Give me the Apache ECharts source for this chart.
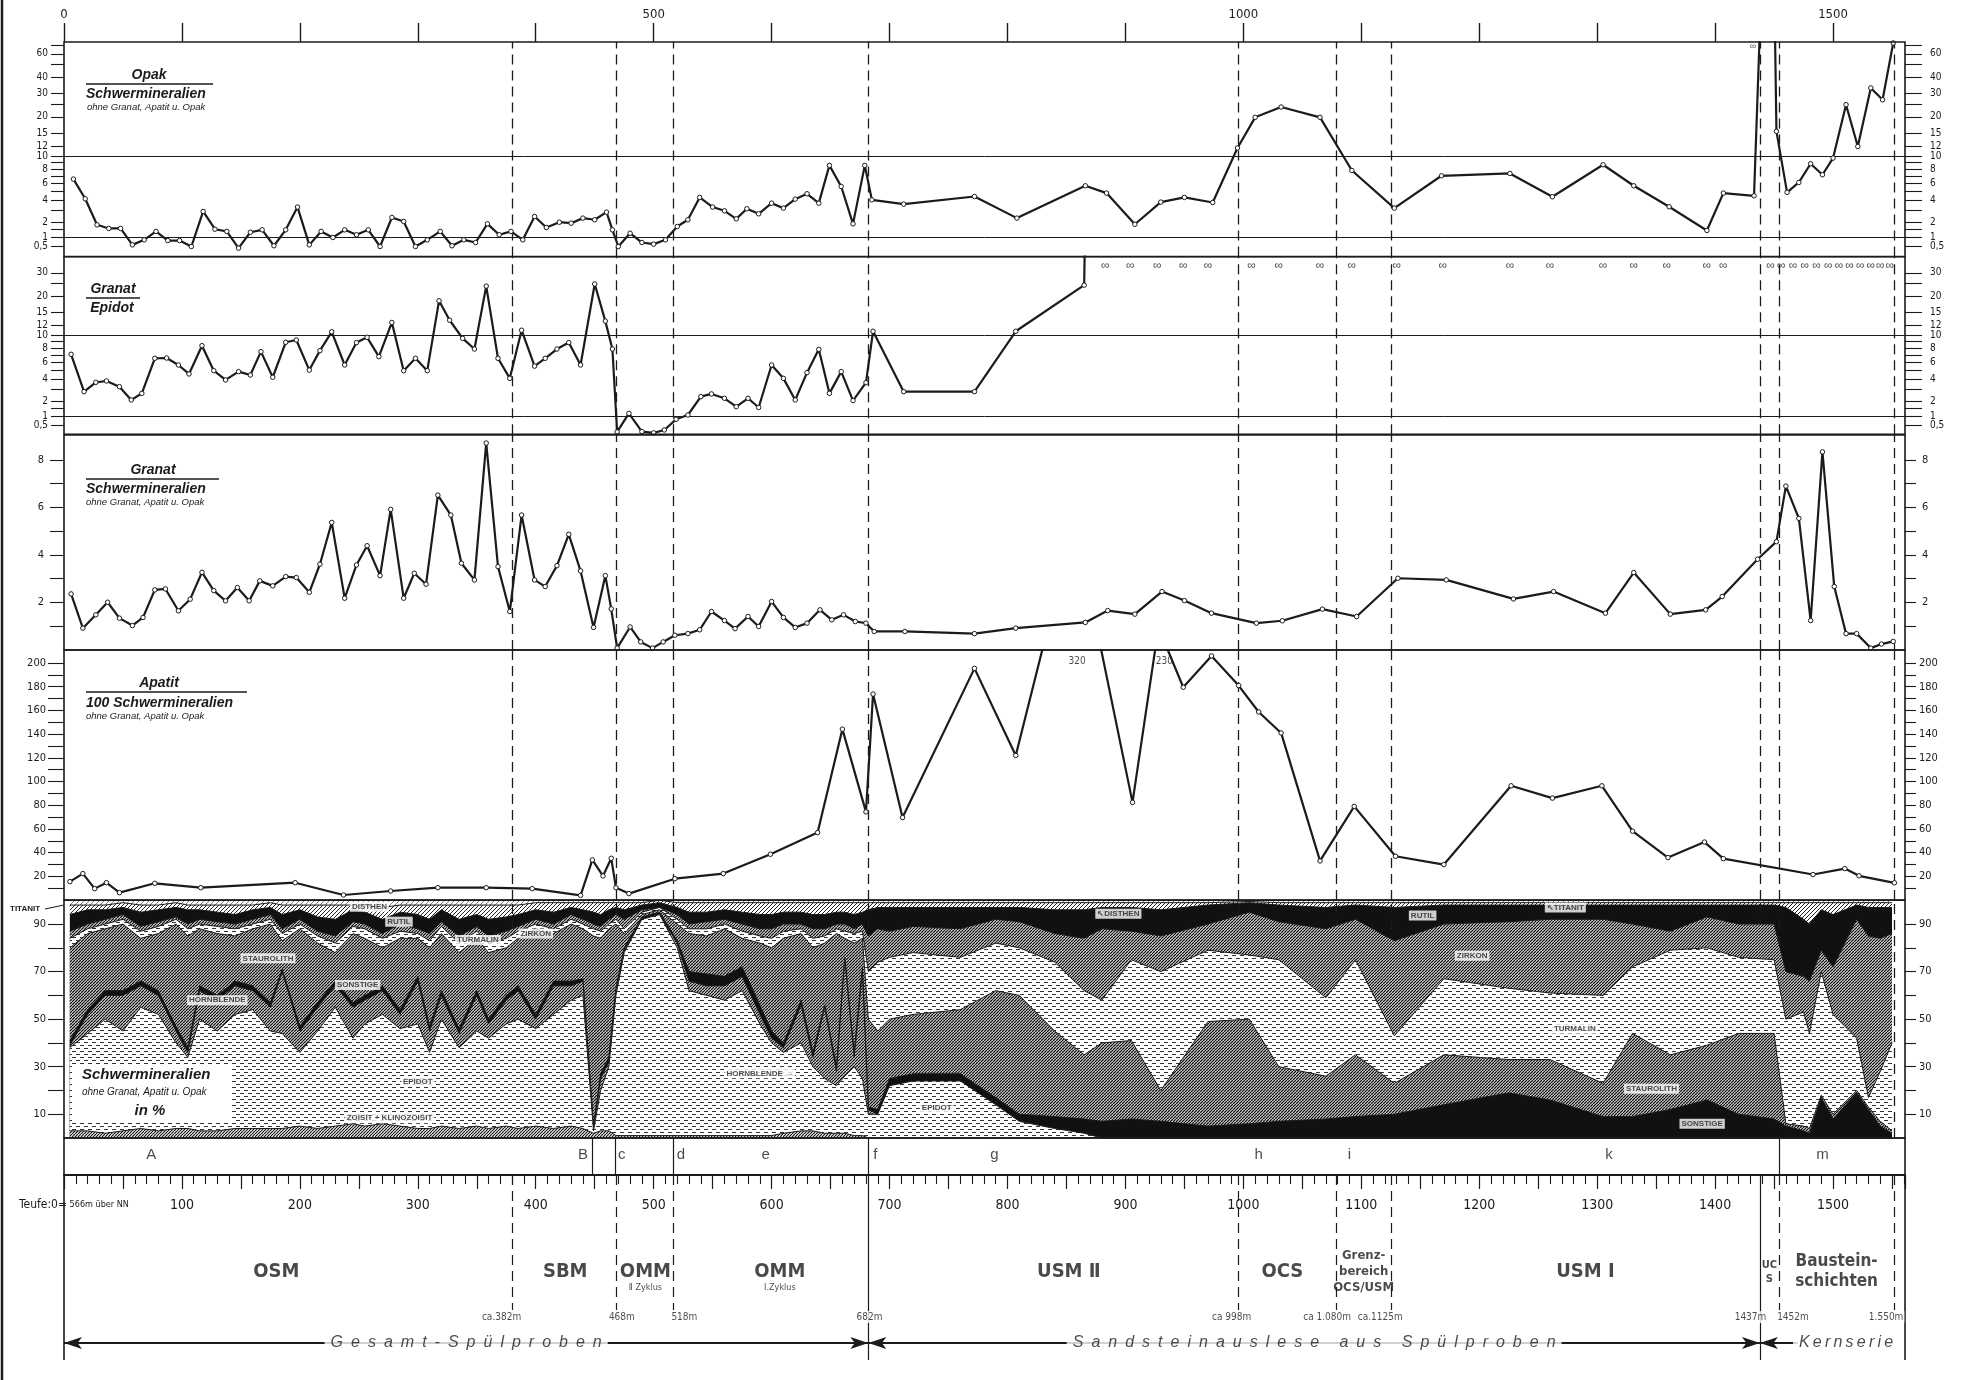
<!DOCTYPE html>
<html><head><meta charset="utf-8">
<script src="https://cdn.jsdelivr.net/npm/echarts@6/dist/echarts.min.js"></script>
<style>html,body{margin:0;padding:0;background:#fff}#c{width:1973px;height:1380px}</style>
</head><body><div id="c"></div>
<script>
// ---------------- DATA ----------------
// Panel 1: Opak / Schwermineralien
const opakDepth = [8,18,28,38,48,58,68,78,88,98,108,118,128,138,148,158,168,178,188,198,208,218,228,238,248,258,268,278,288,298,308,319,329,339,349,359,369,379,389,399,409,420,430,440,450,460,465,470,480,490,500,510,520,529,539,550,560,570,579,589,600,610,620,630,640,649,659,669,679,685,712,772,808,866,884,908,930,950,974,995,1010,1032,1065,1092,1128,1168,1226,1262,1305,1331,1361,1393,1407,1433,1442,1449,1452,1461,1471,1481,1491,1500,1511,1521,1532,1542,1551];
const opakValue = [6.54,4.13,1.79,1.54,1.54,0.59,0.87,1.35,0.83,0.83,0.5,2.87,1.49,1.35,0.41,1.30,1.45,0.54,1.45,3.28,0.59,1.35,1.0,1.45,1.15,1.45,0.5,2.35,2.04,0.5,0.87,1.35,0.54,0.87,0.72,1.86,1.15,1.35,0.87,2.43,1.60,1.98,1.91,2.30,2.17,2.81,1.45,0.5,1.24,0.72,0.63,0.87,1.67,2.17,4.28,3.28,2.93,2.24,3.12,2.66,3.67,3.18,4.09,4.69,3.67,8.54,5.57,1.86,8.54,4.02,3.57,4.38,2.30,5.66,4.77,1.83,3.78,4.28,3.74,11.6,19.8,23.7,19.8,7.77,3.18,7.0,7.33,4.35,8.64,5.66,3.31,1.41,4.77,4.46,1000,1000,15.5,4.86,6.09,8.80,7.15,9.72,24.7,11.9,33.1,26.9,72.6];
const opakInfDepth = [1432];

// Panel 2: Granat / Epidot
const geDepth = [6,17,27,36,47,57,66,77,87,97,106,117,127,137,148,158,167,177,188,197,208,217,227,238,248,257,267,278,288,298,308,318,327,338,348,358,368,378,388,399,408,418,428,438,450,459,465,469,479,490,500,509,519,529,540,549,560,570,580,589,600,610,620,630,640,649,659,669,680,686,712,772,807,865,868];
const geValue = [7.10,2.78,3.67,3.81,3.24,2.09,2.63,6.54,6.58,5.66,4.58,8.38,4.96,3.92,4.85,4.46,7.48,4.21,8.91,9.28,5.03,7.63,10.7,5.66,8.87,9.72,6.77,12.6,4.96,6.54,4.96,18.4,13.1,9.55,7.87,23.8,6.54,4.09,11.0,5.52,6.54,7.87,8.87,5.66,24.7,12.9,7.87,0.15,1.18,0.17,0.1,0.26,0.85,1.09,2.35,2.58,2.22,1.60,2.22,1.55,5.66,4.09,2.09,4.73,7.82,2.63,4.85,2.04,3.64,10.8,2.78,2.78,10.8,24.2,1000];
const geInfDepth = [883,904,927,949,970,1007,1030,1065,1092,1130,1169,1226,1260,1305,1331,1359,1393,1407,1447,1456,1466,1476,1486,1496,1505,1514,1523,1532,1540,1548];

// Panel 3: Granat / Schwermineralien
const gsDepth = [6,16,27,37,47,58,67,77,86,97,107,117,127,137,147,157,166,177,188,197,208,217,227,238,248,257,268,277,288,297,307,317,328,337,348,358,368,378,388,399,408,418,428,438,449,459,464,469,480,489,499,508,518,529,539,549,560,569,580,589,600,610,620,630,641,651,661,671,680,687,713,772,807,866,885,908,931,950,973,1011,1033,1067,1096,1131,1172,1229,1263,1307,1331,1362,1392,1406,1436,1452,1460,1471,1481,1491,1501,1511,1520,1532,1541,1551];
const gsValue = [2.36,0.92,1.48,2.01,1.34,1.03,1.37,2.53,2.57,1.65,2.14,3.27,2.50,2.07,2.63,2.07,2.91,2.70,3.09,3.05,2.43,3.61,5.37,2.18,3.58,4.39,3.13,5.92,2.18,3.23,2.77,6.52,5.68,3.65,2.95,8.71,3.51,1.62,5.68,2.95,2.67,3.55,4.87,3.33,0.95,3.13,1.73,0.08,0.97,0.34,0.08,0.34,0.62,0.69,0.85,1.62,1.24,0.90,1.41,0.99,2.04,1.37,0.95,1.13,1.69,1.27,1.48,1.20,1.13,0.78,0.78,0.69,0.92,1.16,1.66,1.51,2.46,2.08,1.55,1.13,1.23,1.72,1.41,3.02,2.95,2.15,2.46,1.55,3.26,1.51,1.69,2.25,3.82,4.56,6.90,5.54,1.24,8.34,2.67,0.69,0.69,0.08,0.25,0.36];

// Panel 4: Apatit / 100 Schwermineralien
const apDepth = [5,16,26,36,47,77,116,196,237,277,317,358,397,438,448,457,464,468,479,518,559,599,639,660,680,686,711,772,807,857,906,928,949,973,996,1013,1032,1065,1094,1129,1170,1227,1262,1304,1330,1360,1391,1407,1483,1510,1522,1552];
const apValue = [15.5,22.3,9.6,14.6,6.2,14.1,10.4,14.6,4.2,7.6,10.4,10.4,9.6,3.9,33.8,20.3,35.2,10.4,5.4,18.0,22.3,38.6,56.9,144.2,74.4,173.8,69.6,195.5,122,320,82.4,230,179.6,206,181,158.7,141,33,79,36.9,29.9,96.4,86,96.4,58.1,35.8,48.9,34.9,21.5,26.5,20.4,14.5];
const apOffscale = [[859,'320'],[933,'230']];

// Panel 5: cumulative upper boundaries (%) of each layer
const p5Depth = [5,20,35,50,65,80,95,105,115,130,145,160,175,185,200,215,230,245,255,270,285,300,310,320,335,350,360,375,385,400,415,430,440,449,455,462,468,475,490,505,520,530,545,560,575,590,600,610,625,635,645,655,662,670,677,682,690,700,720,760,790,810,840,865,880,905,930,970,1005,1030,1070,1095,1128,1170,1225,1260,1305,1330,1362,1393,1420,1450,1460,1475,1480,1490,1500,1520,1530,1540,1550];
const zoisitTop = [3,3,2,3,4,3,4,4,3,3,4,4,4,4,5,4,5,6,5,6,5,4,4,5,4,5,4,5,4,5,4,5,4,2,3,3,1,1,1,1,1,1,1,1,1,1,1,2,3,3,2,2,2,1,1,0,0,0,0,0,0,0,0,0,0,0,0,0,0,0,0,0,0,0,0,0,0,0,0,0,0,0,0,0,0,0,0,0,0,0,0];
const epidotTop = [38,44,50,45,55,52,40,34,50,45,52,54,45,44,36,45,55,42,48,52,46,48,36,50,38,45,42,48,50,46,52,58,60,3,20,30,60,78,92,94,80,62,60,58,62,48,40,36,40,30,25,22,26,30,25,10,10,22,24,24,14,7,4,2,0,0,0,0,0,0,0,0,0,0,0,0,0,0,0,0,0,0,0,0,0,0,0,0,0,0,0];
const hornblendeTop = [39,52,60,60,64,60,45,36,62,58,64,62,55,70,45,55,64,55,58,62,52,66,45,60,44,60,48,58,62,50,64,64,66,4,25,32,62,79,92,94,82,66,64,64,68,52,42,38,56,34,55,28,75,34,70,12,10,22,24,24,14,7,4,2,0,0,0,0,0,0,0,0,0,0,0,0,0,0,0,0,0,0,0,0,0,0,0,0,0,0,0];
const sonstigeTop = [41,54,62,62,66,62,47,38,64,60,66,64,57,71,47,57,66,57,60,64,54,68,47,62,46,62,50,60,64,52,66,66,67,5,27,34,63,80,93,95,83,70,69,68,72,56,45,40,58,36,56,30,76,36,72,13,12,25,27,27,17,10,9,8,7,8,7,5,6,7,8,9,10,14,19,16,9,9,12,16,10,8,5,3,2,17,8,19,12,5,2];
const staurolithTop = [80,86,88,90,84,86,90,85,88,86,85,88,90,83,88,82,78,86,84,80,84,84,80,86,78,84,78,80,84,88,86,90,88,85,84,88,90,86,94,96,90,86,85,88,84,82,80,84,86,80,82,86,84,82,84,50,45,50,52,54,62,60,45,35,40,41,20,49,50,30,26,35,23,35,33,33,23,44,35,39,44,44,6,5,4,18,10,20,13,7,3];
const turmalinTop = [84,88,90,92,87,89,92,88,90,89,88,90,92,86,90,85,82,89,88,84,87,86,83,89,82,87,82,84,87,90,88,92,90,88,87,90,92,88,95,97,92,88,88,90,87,85,84,87,88,84,85,88,87,86,87,70,74,76,78,76,82,80,74,62,58,75,70,79,77,75,59,75,43,67,63,61,60,72,79,80,76,75,50,53,44,70,52,42,17,28,40];
const zirkonTop = [87,90,92,94,89,91,93,90,92,91,90,92,94,88,92,87,85,91,90,86,90,88,86,91,85,89,85,87,89,92,90,94,92,90,89,92,94,92,96,97,94,90,91,92,90,88,88,90,90,88,88,90,90,88,90,85,88,87,89,88,92,91,86,84,88,87,85,90,95,91,88,92,83,90,91,92,92,90,87,93,90,90,70,68,66,79,72,92,85,84,86];
const rutilTop = [94,96,96,97,95,96,97,96,96,95,94,96,97,94,96,93,92,96,95,92,95,94,92,96,92,94,92,93,94,96,95,97,96,95,94,96,97,96,98,99,97,95,95,96,95,94,94,95,95,94,94,95,95,94,95,96,97,97,97,97,97,97,96,96,97,97,96,98,99,98,97,98,97,98,98,98,98,98,98,98,98,98,97,92,90,96,94,98,97,97,97];
const disthenTop = [98,98,98,99,98,98,99,98,98,98,98,98,99,98,98,98,98,98,98,97,98,98,98,98,98,98,98,98,98,99,99,99,99,99,99,99,99,99,99,100,99,99,99,99,99,99,99,99,99,99,99,99,99,99,99,99,99,99,99,99,99,99,99,99,99,99,99,99,99.5,99,99,99,99,99,99,99,99,99,99,99,99,99,99,99,99,99,99,99,99,99,99];
const p5Labels = [['DISTHEN',259,97.3],['RUTIL',284,91],['STAUROLITH',173,75.6],['SONSTIGE',249,64.4],['HORNBLENDE',130,58],['TURMALIN',351,83.3],['ZIRKON',400,86],['EPIDOT',300,23.7],['ZOISIT + KLINOZOISIT',276,8.3],['HORNBLENDE \u2192',590,27.2],['EPIDOT',740,12.5],['\u2196DISTHEN',894,94.3],['RUTIL',1152,93.6],['\u2196TITANIT',1273,97],['ZIRKON',1194,76.7],['TURMALIN',1281,46],['STAUROLITH',1346,20.7],['SONSTIGE',1389,6]];

// Boundaries, letters, stratigraphy
const boundaryDepths = [380,468,517,682,996,1079,1125,1438,1454,1552];
const solidBoundaries = [682,1438];
const letterNames = ['A','B','c','d','e','f','g','h','i','k','m'];
const letterDepths = [74,440,473,523,595,688,789,1013,1090,1310,1491];
const letterLines = [448,467,517,682,1454];
const stratNames = ['OSM','SBM','OMM','OMM','USM \u2161','OCS','Grenz-\nbereich\nOCS/USM','USM \u2160','UC\nS','Baustein-\nschichten'];
const stratDepths = [180,425,493,607,852,1033,1102,1290,1446,1503];
const stratSub = [[493,'\u2161 Zyklus'],[607,'\u2160.Zyklus']];
const depthLabels = [[371,'ca.382m'],[473,'468m'],[526,'518m'],[683,'682m'],[990,'ca 998m'],[1071,'ca 1.080m'],[1116,'ca.1125m'],[1430,'1437m'],[1466,'1452m'],[1545,'1.550m']];
const sampleGroups = [[0,682,'Gesamt-Spülproben',341],[682,1438,'Sandsteinauslese aus Spülproben',1060],[1438,1470,'Kernserie',1511]];

// tick lists
const p1Ticks = [70,60,50,40,30,25,20,15,12,10,9,8,7,6,5,4,3,2,1.5,1,0.5];
const p1Labels = [60,40,30,20,15,12,10,8,6,4,2,0.5];
const p2Ticks = [30,25,20,15,12,10,9,8,7,6,5,4,3,2,1.5,1,0.5];
const p2Labels = [30,20,15,12,10,8,6,4,2,0.5];
const logExtraLabels = [1];
const p3Ticks = [1,2,3,4,5,6,7,8];
const p3Labels = [2,4,6,8];
const p4Ticks = [10,20,30,40,50,60,70,80,90,100,110,120,130,140,150,160,170,180,190,200];
const p4Labels = [20,40,60,80,100,120,140,160,180,200];
const p5Ticks = [10,20,30,40,50,60,70,80,90];
const p5LabelVals = [10,30,50,70,90];
const topTicks = [0,100,200,300,400,500,600,700,800,900,1000,1100,1200,1300,1400,1500];
const topLabels = [0,500,1000,1500];

// ---------------- CHART ----------------
const FONT = "'Liberation Sans','Arimo',sans-serif";
const NARROW = "'Liberation Sans Narrow','DejaVu Sans Condensed','Liberation Sans',sans-serif";
const INK = '#1b1b1b';
const X_MAX = 1561;
function tf(v){ if(v>=10) return 243+395*Math.log10(v/10); if(v>=1) return 112.4*(Math.sqrt(v)-1); return 54*(v-1); }

function pat(w,h,fn){const c=document.createElement('canvas');c.width=w;c.height=h;const g=c.getContext('2d');g.fillStyle='#fff';g.fillRect(0,0,w,h);fn(g,w,h);return {image:c,repeat:'repeat'};}
function hatch(s,lw,col){return pat(s,s,g=>{g.strokeStyle=col||'#111';g.lineWidth=lw;g.beginPath();for(let k=-1;k<=1;k++){g.moveTo(k*s,s);g.lineTo(k*s+s,0);}g.stroke();});}
const dashPat = pat(8,6,g=>{g.fillStyle='#333';g.fillRect(0,1,4,1);g.fillRect(4,4,4,1);});
const fills = {
  titanit: hatch(5,0.7,'#444'), disthen: hatch(4,1.0,'#222'), rutil: '#111', zirkon: hatch(3,1.3),
  turmalin: dashPat, staurolith: hatch(3,1.4), sonstige: '#111', hornblende: hatch(3,1.3),
  epidot: dashPat, zoisit: hatch(3,1.2)
};

function mapAxis(gi,pos,min,max,ticks,labels,tfn,tickLen,margin,fs){
  const map={}; labels.forEach(v=>{map[tfn(v).toFixed(4)] = String(v).replace('.',',');});
  return {type:'value',gridIndex:gi,position:pos,min,max,axisLine:{show:false,onZero:false},splitLine:{show:false},
    axisTick:{show:ticks.length>0,length:tickLen,customValues:ticks.map(tfn),lineStyle:{color:INK,width:1.1}},
    axisLabel:{show:true,customValues:labels.map(tfn),margin,fontSize:fs||11,fontFamily:NARROW,color:INK,hideOverlap:false,interval:0,
      showMinLabel:true,showMaxLabel:true,formatter:v=>map[Number(v).toFixed(4)]||''}};
}
const id = v=>v;
const vLines = boundaryDepths.map(d=>({xAxis:d,lineStyle:{type:[10,6],width:1.3,color:INK}}));
const hLines = [{yAxis:tf(10),lineStyle:{type:'solid',width:1,color:INK}},{yAxis:tf(1),lineStyle:{type:'solid',width:1,color:INK}}];
function ml(data){return {silent:true,symbol:'none',label:{show:false},animation:false,data};}
const lineBase = {type:'line',symbol:'circle',symbolSize:4.5,showAllSymbol:true,clip:true,z:5,
  lineStyle:{color:INK,width:2.2},itemStyle:{color:'#fff',borderColor:INK,borderWidth:1}};

const grids = [
  {left:64,right:68,top:42,height:214.5},
  {left:64,right:68,top:256.7,height:177.6},
  {left:64,right:68,top:435,height:215},
  {left:64,right:68,top:650,height:250},
  {left:64,right:68,top:900.3,height:237.7},
  {left:64,right:68,top:1138,height:37},
  {left:64,right:68,top:1175,height:185,show:false}
].map((g,i)=>Object.assign({show:i<6,borderColor:INK,borderWidth:1.6,z:30},g));

const xAxes = [];
xAxes.push({type:'value',gridIndex:0,min:0,max:X_MAX,position:'top',axisLine:{show:false,onZero:false},splitLine:{show:false},
  axisTick:{show:true,length:19,customValues:topTicks,lineStyle:{color:INK,width:1.4}},
  axisLabel:{show:true,customValues:topLabels,margin:21,fontSize:13,fontFamily:NARROW,color:INK,formatter:v=>String(v)}});
for(let i=1;i<=5;i++) xAxes.push({type:'value',gridIndex:i,min:0,max:X_MAX,show:false,axisLine:{onZero:false}});
xAxes.push({type:'value',gridIndex:6,min:0,max:X_MAX,position:'top',interval:50,
  axisLine:{show:true,onZero:false,lineStyle:{color:INK,width:2.2}},splitLine:{show:false},
  axisTick:{show:true,inside:true,length:14,lineStyle:{color:INK,width:1.2}},
  minorTick:{show:true,splitNumber:5,length:9,lineStyle:{color:INK,width:1.1}},
  axisLabel:{show:true,inside:true,margin:23,fontSize:14,fontFamily:NARROW,color:INK,formatter:v=>(v>0&&v%100===0)?String(v):''}});

const yAxes = [
  mapAxis(0,'left',-57,586,p1Ticks,p1Labels,tf,13,16,10),
  mapAxis(0,'right',-57,586,p1Ticks,p1Labels,tf,17,25,10),
  mapAxis(1,'left',-53,480,p2Ticks,p2Labels,tf,13,16,10),
  mapAxis(1,'right',-53,480,p2Ticks,p2Labels,tf,17,25,10),
  mapAxis(2,'left',0,9.05,p3Ticks,p3Labels,id,14,20),
  mapAxis(2,'right',0,9.05,p3Ticks,p3Labels,id,11,17),
  mapAxis(3,'left',0,211,p4Ticks,p4Labels,id,16,18),
  mapAxis(3,'right',0,211,p4Ticks,p4Labels,id,11,14),
  mapAxis(4,'left',0,100,p5Ticks,p5LabelVals,id,16,18),
  mapAxis(4,'right',0,100,p5Ticks,p5LabelVals,id,11,14),
  {type:'value',gridIndex:5,min:0,max:37,inverse:true,show:false},
  {type:'value',gridIndex:6,min:0,max:185,inverse:true,show:false},
  // extra label-only axes so the "1" label is not dropped next to "0,5"
  mapAxis(0,'left',-57,586,[],logExtraLabels,tf,13,16,10),
  mapAxis(0,'right',-57,586,[],logExtraLabels,tf,17,25,10),
  mapAxis(1,'left',-53,480,[],logExtraLabels,tf,13,16,10),
  mapAxis(1,'right',-53,480,[],logExtraLabels,tf,17,25,10)
];

const series = [];
// Panel 1
series.push(Object.assign({},lineBase,{name:'Opak',xAxisIndex:0,yAxisIndex:0,
  data:opakDepth.map((d,i)=>[d,tf(opakValue[i])]),markLine:ml(hLines.concat(vLines))}));
series.push({type:'scatter',xAxisIndex:0,yAxisIndex:0,symbolSize:0,z:6,
  data:opakInfDepth.map(d=>[d,tf(68)]),label:{show:true,position:'inside',formatter:'\u221e',fontSize:9,color:INK,fontFamily:FONT}});
// Panel 2
series.push(Object.assign({},lineBase,{name:'Granat/Epidot',xAxisIndex:1,yAxisIndex:2,
  data:geDepth.map((d,i)=>[d,tf(geValue[i])]),markLine:ml(hLines.concat(vLines))}));
series.push({type:'scatter',xAxisIndex:1,yAxisIndex:2,symbolSize:0,z:6,
  data:geInfDepth.map(d=>[d,tf(34)]),label:{show:true,position:'inside',formatter:'\u221e',fontSize:12,color:INK,fontFamily:FONT}});
// Panel 3
series.push(Object.assign({},lineBase,{name:'Granat/SM',xAxisIndex:2,yAxisIndex:4,
  data:gsDepth.map((d,i)=>[d,gsValue[i]]),markLine:ml(vLines)}));
// Panel 4
series.push(Object.assign({},lineBase,{name:'Apatit',xAxisIndex:3,yAxisIndex:6,
  data:apDepth.map((d,i)=>[d,apValue[i]]),markLine:ml(vLines)}));
series.push({type:'scatter',xAxisIndex:3,yAxisIndex:6,symbolSize:0,z:6,
  data:apOffscale.map(a=>[a[0],201,a[1]]),label:{show:true,position:'inside',formatter:p=>p.value[2],fontSize:10,color:INK,fontFamily:NARROW}});
// Panel 5 areas (drawn from top boundary downward)
const layers = [
  ['Titanit',p5Depth.map(()=>100),fills.titanit],
  ['Disthen',disthenTop,fills.disthen],
  ['Rutil',rutilTop,fills.rutil],
  ['Zirkon',zirkonTop,fills.zirkon],
  ['Turmalin',turmalinTop,fills.turmalin],
  ['Staurolith',staurolithTop,fills.staurolith],
  ['Sonstige',sonstigeTop,fills.sonstige],
  ['Hornblende',hornblendeTop,fills.hornblende],
  ['Epidot',epidotTop,fills.epidot],
  ['Zoisit',zoisitTop,fills.zoisit]
];
layers.forEach((L,i)=>{
  series.push({type:'line',name:L[0],xAxisIndex:4,yAxisIndex:8,symbol:'none',z:2+i,clip:true,
    data:p5Depth.map((d,k)=>[d,L[1][k]]),lineStyle:{color:INK,width:1},
    areaStyle:{color:L[2],opacity:1,origin:'start'}});
});
series.push({type:'scatter',xAxisIndex:4,yAxisIndex:8,symbolSize:0,z:20,
  data:p5Labels.map(a=>[a[1],a[2],a[0]]),
  label:{show:true,position:'inside',formatter:p=>p.value[2],fontSize:8,fontWeight:'bold',color:INK,fontFamily:FONT,backgroundColor:'#fff',padding:[1,2]},
  markLine:ml(vLines)});
// Letter band
series.push({type:'scatter',xAxisIndex:5,yAxisIndex:10,symbolSize:0,z:20,
  data:letterDepths.map((d,i)=>[d,17,letterNames[i]]),
  label:{show:true,position:'inside',formatter:p=>p.value[2],fontSize:15,color:INK,fontFamily:FONT},
  markLine:ml(letterLines.map(d=>({xAxis:d,lineStyle:{type:'solid',width:1.2,color:INK}})))});
// Stratigraphy section
const stratLines = [];
boundaryDepths.forEach(d=>{
  const solid = solidBoundaries.indexOf(d)>=0;
  stratLines.push([{coord:[d,0],lineStyle:{type:solid?'solid':[10,6],width:1.2,color:INK}},{coord:[d,solid?185:135]}]);
});
stratLines.push([{coord:[0,0],lineStyle:{type:'solid',width:1.6,color:INK}},{coord:[0,185]}]);
stratLines.push([{coord:[X_MAX,0],lineStyle:{type:'solid',width:1.6,color:INK}},{coord:[X_MAX,185]}]);
const stratSize = n => n.indexOf('Grenz')===0 ? 13 : (n.indexOf('UC')===0 ? 11 : (n.indexOf('Baustein')===0 ? 17 : 20));
series.push({type:'scatter',xAxisIndex:6,yAxisIndex:11,symbolSize:0,z:20,
  data:stratDepths.map((d,i)=>({value:[d,97,stratNames[i]],label:{fontSize:stratSize(stratNames[i]),lineHeight:stratSize(stratNames[i])+3}})),
  label:{show:true,position:'inside',formatter:p=>p.value[2],fontWeight:'bold',color:INK,fontFamily:NARROW},
  markLine:ml(stratLines)});
series.push({type:'scatter',xAxisIndex:6,yAxisIndex:11,symbolSize:0,z:20,
  data:stratSub.map(a=>[a[0],113,a[1]]),
  label:{show:true,position:'inside',formatter:p=>p.value[2],fontSize:9,color:INK,fontFamily:NARROW}});
series.push({type:'scatter',xAxisIndex:6,yAxisIndex:11,symbolSize:0,z:22,
  data:depthLabels.map(a=>[a[0],142,a[1]]),
  label:{show:true,position:'inside',formatter:p=>p.value[2],fontSize:10,color:INK,fontFamily:NARROW,backgroundColor:'#fff',padding:[1,1]}});
// sample groups with arrows
const spaced = s => s.split('').join('\u2002');
series.push({type:'scatter',xAxisIndex:6,yAxisIndex:11,symbolSize:0,z:25,
  data:sampleGroups.map(g=>[g[3],168,g[2]]),
  label:{show:true,position:'inside',formatter:p=>p.value[2]==='Kernserie'?p.value[2].split('').join('\u2009'):spaced(p.value[2]),
    fontSize:16,fontStyle:'italic',color:INK,fontFamily:FONT,backgroundColor:'#fff',padding:[0,6]},
  markLine:{silent:true,symbol:['arrow','arrow'],symbolSize:[9,18],label:{show:false},
    lineStyle:{type:'solid',width:2,color:INK},
    data:sampleGroups.map((g,i)=>[{coord:[g[0],168]},{coord:[g[1],168],symbol:i===2?'none':'arrow'}])}});

const title = (x,y,t,size,weight,align)=>({type:'text',z:100,x,y,style:{text:t,fontSize:size,fontWeight:weight||'bold',fontStyle:'italic',fontFamily:FONT,fill:INK,
  textAlign:align||'left',align:align||'left',textVerticalAlign:'middle',verticalAlign:'middle'}});
const bar = (x1,x2,y)=>({type:'line',z:100,shape:{x1,y1:y,x2,y2:y},style:{stroke:INK,lineWidth:1.5}});

const graphic = [
  {type:'line',z:100,shape:{x1:2,y1:0,x2:2,y2:1380},style:{stroke:INK,lineWidth:2.5}},
  title(149,75,'Opak',14,'bold','center'), bar(86,213,84), title(86,94,'Schwermineralien',14), title(87,107,'ohne Granat, Apatit u. Opak',9.5,'normal'),
  title(113,289,'Granat',14,'bold','center'), bar(86,140,298), title(112,308,'Epidot',14,'bold','center'),
  title(153,470,'Granat',14,'bold','center'), bar(86,219,479), title(86,489,'Schwermineralien',14), title(86,502,'ohne Granat, Apatit u. Opak',9.5,'normal'),
  title(159,683,'Apatit',14,'bold','center'), bar(86,247,692), title(86,703,'100 Schwermineralien',14), title(86,716,'ohne Granat, Apatit u. Opak',9.5,'normal'),
  {type:'rect',z:90,shape:{x:72,y:1064,width:160,height:58},style:{fill:'#fff'}},
  title(82,1075,'Schwermineralien',15), title(82,1092,'ohne Granat, Apatit u. Opak',10,'normal'), title(150,1111,'in %',15,'bold','center'),
  {type:'text',z:100,x:10,y:909,style:{text:'TITANIT',fontSize:8,fontWeight:'bold',fontFamily:FONT,fill:INK,textVerticalAlign:'middle',verticalAlign:'middle'}},
  {type:'line',z:100,shape:{x1:45,y1:909,x2:64,y2:905},style:{stroke:INK,lineWidth:1}},
  {type:'text',z:100,x:19,y:1205,style:{rich:{a:{fontSize:12,fontFamily:NARROW,fill:INK},b:{fontSize:9,fontFamily:NARROW,fill:INK}},text:'{a|Teufe:0=}{b| 566m über NN}',fill:INK,textVerticalAlign:'middle',verticalAlign:'middle'}}
];

const chart = echarts.init(document.getElementById('c'),null,{renderer:'canvas',width:1973,height:1380});
chart.setOption({animation:false,backgroundColor:'#fff',grid:grids,xAxis:xAxes,yAxis:yAxes,series,graphic});
</script>
</body></html>
